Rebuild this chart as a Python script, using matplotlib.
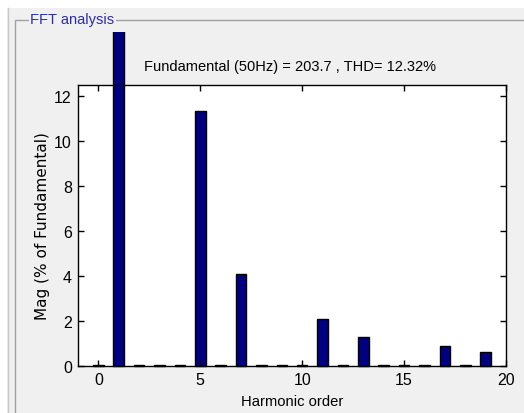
import numpy as np
import matplotlib
matplotlib.use("Agg")
import matplotlib.pyplot as plt
from matplotlib.lines import Line2D
from matplotlib.patches import Rectangle
from matplotlib.transforms import Bbox, TransformedBbox

# 谐波次数与幅值 (% of fundamental)
harmonics = np.arange(0, 20)
mag = [0.06, 100.0, 0.06, 0.06, 0.06, 11.36, 0.06, 4.08, 0.06, 0.06,
       0.06, 2.08, 0.06, 1.29, 0.06, 0.06, 0.06, 0.88, 0.06, 0.63]
xticks = [0, 5, 10, 15, 20]
yticks = [0, 2, 4, 6, 8, 10, 12]
title_txt = "Fundamental (50Hz) = 203.7 , THD= 12.32%"

W, H = 524, 414
BG = "#F0F0F0"
sans = ["Liberation Sans", "DejaVu Sans"]

fig = plt.figure(figsize=(W / 100, H / 100), dpi=100, facecolor=BG)

# 窗口边缘白条 + 分组框
fig.patches.append(Rectangle((0, 1 - 9 / H), 1, 9 / H, transform=fig.transFigure,
                             facecolor="white", edgecolor="none", zorder=0))
fig.patches.append(Rectangle((0, 0), 7 / W, 1, transform=fig.transFigure,
                             facecolor="white", edgecolor="none", zorder=0))
fig.lines.append(Line2D([7.5 / W, 7.5 / W], [0, 1 - 9 / H], transform=fig.transFigure,
                        color="#C8C8C8", lw=1))
fig.lines.append(Line2D([14.5 / W, 14.5 / W, 1], [0, 1 - 21 / H, 1 - 21 / H],
                        transform=fig.transFigure, color="#A0A0A0", lw=1))
fig.text(30 / W, 1 - 20 / H, "FFT analysis", color="#2B2BB0", fontsize=10.5,
         family=sans, va="center", ha="left",
         bbox=dict(facecolor=BG, edgecolor="none", pad=1))

ax = fig.add_axes([78 / W, 1 - 367 / H, 428 / W, (367 - 86) / H])
ax.set_facecolor("white")
bars = ax.bar(harmonics, mag, width=0.52, color="#000080", edgecolor="black", lw=1)
clip = TransformedBbox(Bbox([[0, 0], [1, 1 - 33 / H]]), fig.transFigure)
for b in bars:
    b.set_clip_box(clip)

ax.set_xlim(-1, 20)
ax.set_ylim(0, 12.5)
ax.set_xticks(xticks)
ax.set_yticks(yticks)
ax.tick_params(direction="in", top=True, right=True, length=4, width=1,
               labelsize=11.5, pad=4.5)
for lbl in ax.get_xticklabels() + ax.get_yticklabels():
    lbl.set_family(sans)
for s in ax.spines.values():
    s.set_linewidth(1)
ax.set_xlabel("Harmonic order", fontsize=10.6, family=sans, labelpad=5)
ax.set_ylabel("Mag (% of Fundamental)", fontsize=11,
              family=["DejaVu Sans"], labelpad=3)
fig.text(289.5 / W, 1 - 67 / H, title_txt, fontsize=10.5, family=sans,
         ha="center", va="center")

fig.savefig("out.png", dpi=100, facecolor=BG)
